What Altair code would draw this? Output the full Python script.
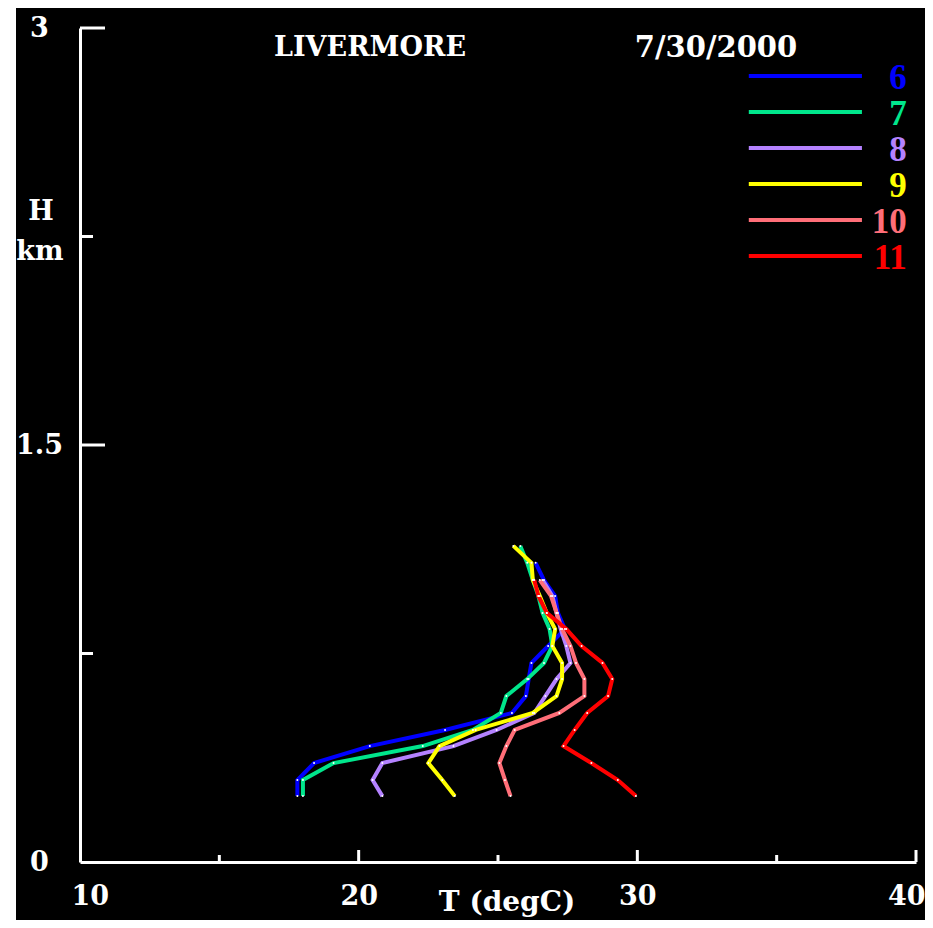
import altair as alt
import pandas as pd

# ---- data ----
HEIGHTS = [0.237, 0.295, 0.356, 0.417, 0.475, 0.536, 0.597, 0.658,
           0.716, 0.777, 0.838, 0.896, 0.957, 1.014, 1.076, 1.137]
HOURS = ["6", "7", "8", "9", "10", "11"]
COLORS = ["#0000ff", "#00e68c", "#b482ff", "#ffff00", "#ff6e78", "#ff0000"]

T6 = [17.8, 17.8, 18.4, 20.4, 23.1, 25.5, 26.0, 26.1, 26.2, 26.8, 27.4, 27.15, 27.05, 26.65, 26.35]
T7 = [18.0, 18.0, 19.1, 22.3, 24.1, 25.1, 25.3, 26.05, 26.65, 26.95, 26.85, 26.6, 26.45, 26.25, 26.05, 25.8]
T8 = [20.85, 20.5, 20.85, 23.4, 24.95, 26.3, 26.7, 27.1, 27.6, 27.45, 27.25, 27.1, 26.95, 26.6]
T9 = [23.45, 23.0, 22.5, 22.9, 24.2, 26.25, 27.1, 27.3, 27.3, 26.95, 27.05, 26.75, 26.5, 26.25, 26.2, 25.55]
T10 = [25.45, 25.25, 25.05, 25.3, 25.6, 27.2, 28.1, 28.1, 27.8, 27.6, 27.3, 27.1, 26.9, 26.5]
T11 = [29.95, 29.3, 28.35, 27.35, 27.75, 28.2, 28.95, 29.1, 28.75, 28.0, 27.45, 26.75, 26.45, 26.3]
SERIES = [T6, T7, T8, T9, T10, T11]

X_LABELS = [10, 20, 30, 40]
Y_LABELS = [0, 1.5, 3]
X_MAJOR = [20, 30, 40]
X_MINOR = [15, 25, 35]
Y_MAJOR = [1.5, 3]
Y_MINOR = [0.75, 2.25]

TITLE_TEXTS = ["LIVERMORE", "7/30/2000"]
X_TITLE = "T (degC)"
Y_TITLE = ["H", "km"]

# ---- layout ----
W, H = 836, 834
PAD = {"left": 72, "top": 20, "right": 9, "bottom": 58}
FONT = "DejaVu Serif"

rows = []
for hour, temps in zip(HOURS, SERIES):
    for i, t in enumerate(temps):
        rows.append({"hour": hour, "level": i, "T": t, "H": HEIGHTS[i]})
df = pd.DataFrame(rows)

xs = alt.Scale(domain=[10, 40], nice=False, zero=False)
ys = alt.Scale(domain=[0, 3], nice=False, zero=False)
cs = alt.Scale(domain=HOURS, range=COLORS)

# black backdrop
bg = alt.Chart(pd.DataFrame({"a": [0]})).mark_rect(color="black").encode(
    x=alt.value(-64), x2=alt.value(W + PAD["right"]),
    y=alt.value(-PAD["top"]), y2=alt.value(H + PAD["bottom"]),
)

xaxis = alt.Axis(values=X_LABELS, format="d", ticks=False, tickSize=0, grid=False,
                 domainColor="white", domainWidth=3, labelColor="white",
                 labelFont=FONT, labelFontWeight="bold", labelFontSize=27,
                 labelPadding=34, labelBaseline="middle",
                 labelFlush=True, labelFlushOffset=9, title=None, zindex=2)
yaxis = alt.Axis(values=Y_LABELS, labelExpr="toString(datum.value)", ticks=False,
                 tickSize=0, grid=False, domainColor="white", domainWidth=3,
                 labelColor="white", labelFont=FONT, labelFontWeight="bold",
                 labelFontSize=27, labelPadding=41, labelAlign="center",
                 labelBaseline="middle", title=None, zindex=2)

lines = alt.Chart(df).mark_line(strokeWidth=4).encode(
    x=alt.X("T:Q", scale=xs, axis=xaxis),
    y=alt.Y("H:Q", scale=ys, axis=yaxis),
    color=alt.Color("hour:N", scale=cs, legend=None),
    order=alt.Order("level:Q"),
)
pts = alt.Chart(df).mark_circle(size=4, color="white", opacity=1).encode(
    x=alt.X("T:Q", scale=xs), y=alt.Y("H:Q", scale=ys),
)

# inward ticks
xmaj = alt.Chart(pd.DataFrame({"v": X_MAJOR})).mark_rule(color="white", strokeWidth=3).encode(
    x=alt.X("v:Q", scale=xs), y=alt.value(H), y2=alt.value(H - 12))
xmin = alt.Chart(pd.DataFrame({"v": X_MINOR})).mark_rule(color="white", strokeWidth=3).encode(
    x=alt.X("v:Q", scale=xs), y=alt.value(H), y2=alt.value(H - 7))
ymaj = alt.Chart(pd.DataFrame({"v": Y_MAJOR})).mark_rule(color="white", strokeWidth=3).encode(
    y=alt.Y("v:Q", scale=ys), x=alt.value(0), x2=alt.value(25))
ymin = alt.Chart(pd.DataFrame({"v": Y_MINOR})).mark_rule(color="white", strokeWidth=3).encode(
    y=alt.Y("v:Q", scale=ys), x=alt.value(0), x2=alt.value(13))

# legend (manual)
leg = pd.DataFrame({
    "hour": HOURS,
    "ly": [2.827 - 0.1295 * i for i in range(len(HOURS))],
    "x0": [34.0] * len(HOURS),
    "x1": [38.06] * len(HOURS),
    "xl": [39.67] * len(HOURS),
})
leg_lines = alt.Chart(leg).mark_rule(strokeWidth=4).encode(
    x=alt.X("x0:Q", scale=xs), x2="x1:Q", y=alt.Y("ly:Q", scale=ys),
    color=alt.Color("hour:N", scale=cs, legend=None),
)
leg_text = alt.Chart(leg).mark_text(
    align="right", baseline="middle", dy=2, font="Liberation Serif",
    fontWeight="bold", fontSize=35,
).encode(
    x=alt.X("xl:Q", scale=xs), y=alt.Y("ly:Q", scale=ys), text="hour:N",
    color=alt.Color("hour:N", scale=cs, legend=None),
)

def label(txt, px, py, size=27):
    return alt.Chart(pd.DataFrame({"t": [txt]})).mark_text(
        color="white", font=FONT, fontWeight="bold", fontSize=size,
        align="center", baseline="middle",
    ).encode(x=alt.value(px), y=alt.value(py), text="t:N")

texts = [
    label(TITLE_TEXTS[0], 290, 20),
    label(TITLE_TEXTS[1], 636, 20, 29),
    label(X_TITLE, 427, 875, 28),
    label(Y_TITLE[0], -39, 184),
    label(Y_TITLE[1], -40, 224),
]

chart = alt.layer(bg, lines, pts, xmaj, xmin, ymaj, ymin, leg_lines, leg_text, *texts).properties(
    width=W, height=H, padding=PAD,
    autosize=alt.AutoSizeParams(type="none"),
    background="white",
).configure_view(stroke="transparent")

chart.save("out.html", embed_options={"renderer": "svg", "actions": False})
